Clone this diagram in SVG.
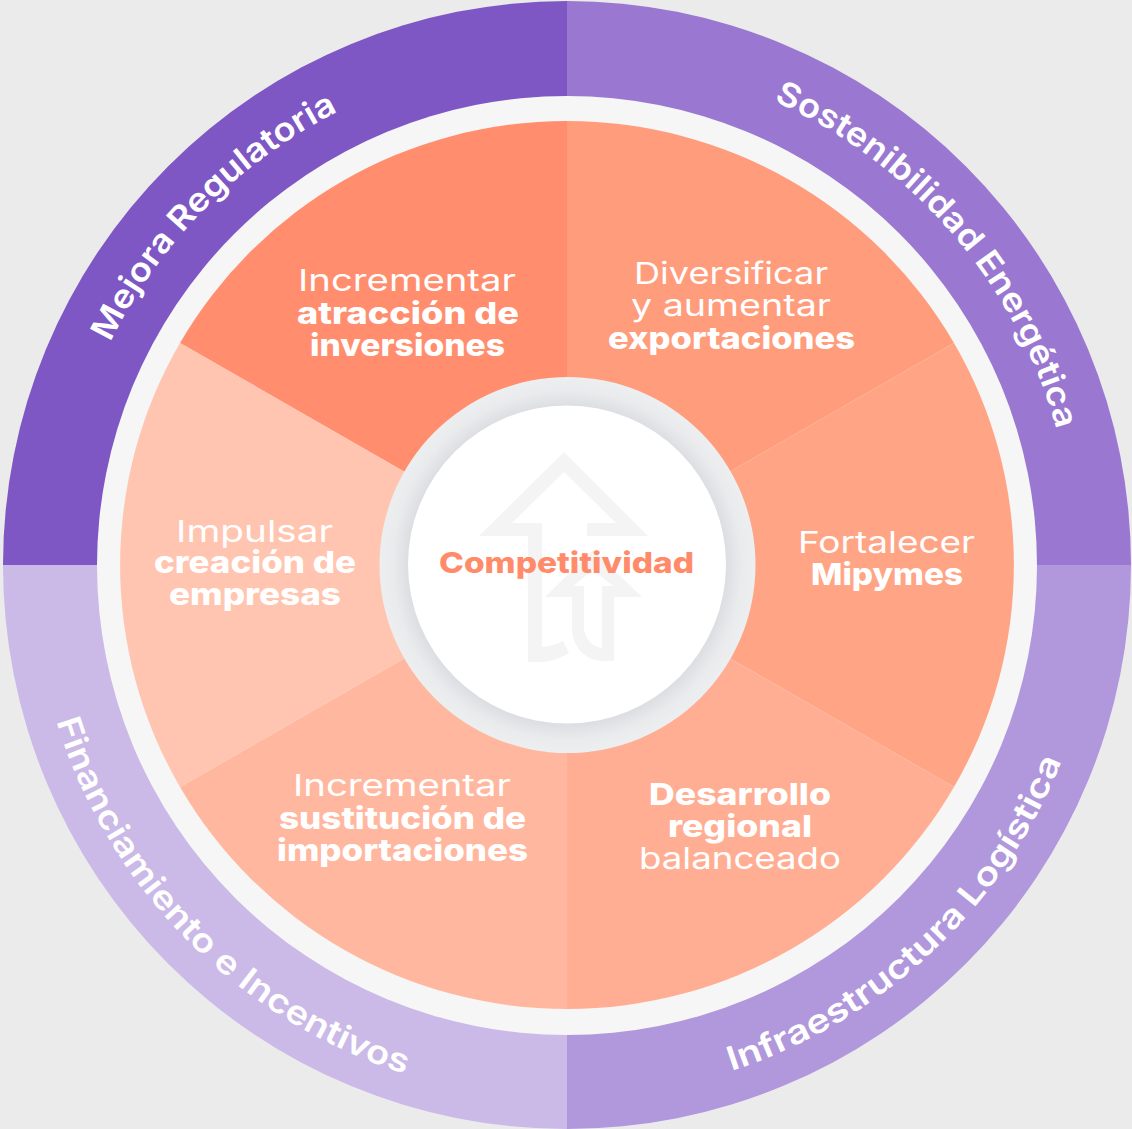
<svg xmlns="http://www.w3.org/2000/svg" width="1132" height="1129" viewBox="0 0 1132 1129">
<style>
text{font-family:Inter,"Liberation Sans",sans-serif;fill:#fff;text-anchor:middle}
.r{font-size:30px;font-weight:400;transform:translateY(.7px)}
.b{font-size:30px;font-weight:800;transform:translateY(.7px)}
.c{font-size:33px;font-weight:600;text-anchor:start}
.i{fill:#f4f4f4}
</style>
<defs>
<radialGradient id="ringGrad" gradientUnits="userSpaceOnUse" cx="567" cy="565" r="188">
<stop offset="0.846" stop-color="#dcdee1"/>
<stop offset="0.93" stop-color="#e9ebed"/>
<stop offset="1" stop-color="#eceef0"/>
</radialGradient>
<path id="p1" d="M110.4 342.3A508 508 0 0 1 567 57"/>
<path id="p2" d="M773.6 100.9A508 508 0 0 1 1075 565"/>
<path id="p3" d="M731.4 1071A532 532 0 0 0 1099 565"/>
<path id="p4" d="M56.300 721A534 534 0 0 0 567 1099"/>
</defs>
<rect width="1132" height="1129" fill="#ebebeb"/>
<g id="outer-ring">
<g id="mejora"><path d="M567 565V1A564 564 0 0 0 3 565Z" fill="#7e57c5"/>
<text class="c"><textPath href="#p1" textLength="330" lengthAdjust="spacingAndGlyphs">Mejora Regulatoria</textPath></text></g>
<g id="sostenibilidad"><path d="M567 565V1A564 564 0 0 1 1131 565Z" fill="#9a78d1"/>
<text class="c"><textPath href="#p2" textLength="448" lengthAdjust="spacingAndGlyphs">Sostenibilidad Energética</textPath></text></g>
<g id="infraestructura"><path d="M567 565H1131A564 564 0 0 1 567 1129Z" fill="#b197dc"/>
<text class="c"><textPath href="#p3" textLength="468" lengthAdjust="spacingAndGlyphs">Infraestructura Logística</textPath></text></g>
<g id="financiamiento"><path d="M567 565V1129A564 564 0 0 1 3 565Z" fill="#cbb9e7"/>
<text class="c"><textPath href="#p4" textLength="516" lengthAdjust="spacingAndGlyphs">Financiamiento e Incentivos</textPath></text></g>
</g>
<ellipse id="white-ring" cx="567" cy="565.500" rx="470" ry="469.500" fill="#f6f6f6"/>
<g id="s-atraccion"><path d="M567 565V121A447 444 0 0 0 180 343Z" fill="#ff8d6e"/>
<text class="r" x="407" y="290" textLength="218" lengthAdjust="spacingAndGlyphs">Incrementar</text>
<text class="b" x="408" y="323" textLength="222" lengthAdjust="spacingAndGlyphs">atracción de</text>
<text class="b" x="407.500" y="355" textLength="195" lengthAdjust="spacingAndGlyphs">inversiones</text></g>
<g id="s-exportaciones"><path d="M567 565V121A447 444 0 0 1 954 343Z" fill="#ff9c7c"/>
<text class="r" x="731" y="283" textLength="194" lengthAdjust="spacingAndGlyphs">Diversificar</text>
<text class="r" x="731" y="315" textLength="200" lengthAdjust="spacingAndGlyphs">y aumentar</text>
<text class="b" x="731.500" y="348" textLength="247" lengthAdjust="spacingAndGlyphs">exportaciones</text></g>
<g id="s-mipymes"><path d="M567 565L954 343A447 444 0 0 1 954 787Z" fill="#ffa585"/>
<text class="r" x="886.500" y="552" textLength="177" lengthAdjust="spacingAndGlyphs">Fortalecer</text>
<text class="b" x="887" y="584" textLength="152" lengthAdjust="spacingAndGlyphs">Mipymes</text></g>
<g id="s-regional"><path d="M567 565L954 787A447 444 0 0 1 567 1009Z" fill="#ffae94"/>
<text class="b" x="740" y="804" textLength="182" lengthAdjust="spacingAndGlyphs">Desarrollo</text>
<text class="b" x="740" y="836" textLength="144" lengthAdjust="spacingAndGlyphs">regional</text>
<text class="r" x="740" y="868" textLength="202" lengthAdjust="spacingAndGlyphs">balanceado</text></g>
<g id="s-sustitucion"><path d="M567 565V1009A447 444 0 0 1 180 787Z" fill="#ffb89f"/>
<text class="r" x="402" y="795" textLength="218" lengthAdjust="spacingAndGlyphs">Incrementar</text>
<text class="b" x="402.500" y="828" textLength="247" lengthAdjust="spacingAndGlyphs">sustitución de</text>
<text class="b" x="402.500" y="860" textLength="251" lengthAdjust="spacingAndGlyphs">importaciones</text></g>
<g id="s-empresas"><path d="M567 565L180 787A447 444 0 0 1 180 343Z" fill="#ffc5b0"/>
<text class="r" x="254.500" y="541" textLength="157" lengthAdjust="spacingAndGlyphs">Impulsar</text>
<text class="b" x="255" y="572" textLength="202" lengthAdjust="spacingAndGlyphs">creación de</text>
<text class="b" x="255" y="604" textLength="172" lengthAdjust="spacingAndGlyphs">empresas</text></g>
<g id="centro">
<circle cx="567.500" cy="565" r="188" fill="url(#ringGrad)"/>
<circle cx="567" cy="564.500" r="159" fill="#fff"/>
<path class="i" d="M564 452L648 536H587V523H616L564 472L512 523H542V647Q553 646 563 641L569 653Q555 662 540 662H528V536H479Z"/>
<path class="i" d="M593 550L642 597H614V661H604C585 661 572 647 572 627V597H545ZM593 570L573 586H584V627C584 638 592 647 602 648V586H613Z" fill-rule="evenodd"/>
<text x="566.500" y="573" textLength="255" lengthAdjust="spacingAndGlyphs" style="font-size:29px;font-weight:800;fill:#ff8b6a">Competitividad</text>
</g>
</svg>
